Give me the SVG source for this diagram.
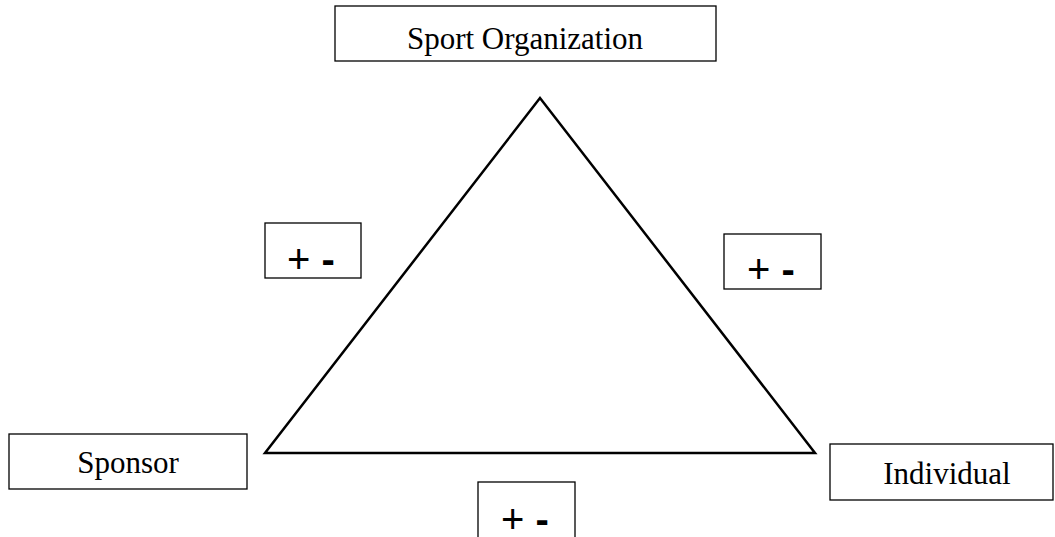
<svg xmlns="http://www.w3.org/2000/svg" width="1055" height="537" viewBox="0 0 1055 537">
<style>
.box{fill:#fff;stroke:#000;stroke-width:1.3}
.lbl{font-family:"Liberation Serif","Times New Roman",serif;font-size:31px;fill:#000;text-anchor:middle}
.pm{font-family:"Liberation Sans",Arial,sans-serif;font-size:40px;fill:#000}
.b{font-weight:bold}
.edge{fill:none;stroke:#000;stroke-width:2.5;stroke-linejoin:miter}
</style>
<rect width="1055" height="537" fill="#fff"/>
<g id="connectors">
<polygon class="edge" points="540,98 265,453 815,453"/>
</g>
<g id="sport-organization">
<rect class="box" x="335" y="6" width="381" height="55"/>
<text class="lbl" x="525" y="49">Sport Organization</text>
</g>
<g id="sponsor">
<rect class="box" x="9" y="434" width="238" height="55"/>
<text class="lbl" x="128" y="473">Sponsor</text>
</g>
<g id="individual">
<rect class="box" x="830" y="444" width="223" height="56"/>
<text class="lbl" x="947" y="484">Individual</text>
</g>
<g id="sign-left">
<rect class="box" x="265" y="223" width="96" height="55"/>
<text class="pm" x="287" y="273">+ <tspan class="b">-</tspan></text>
</g>
<g id="sign-right">
<rect class="box" x="724" y="234" width="97" height="55"/>
<text class="pm" x="747" y="283">+ <tspan class="b">-</tspan></text>
</g>
<g id="sign-bottom">
<rect class="box" x="478" y="482" width="97" height="70"/>
<text class="pm" x="501" y="533">+ <tspan class="b">-</tspan></text>
</g>
</svg>
